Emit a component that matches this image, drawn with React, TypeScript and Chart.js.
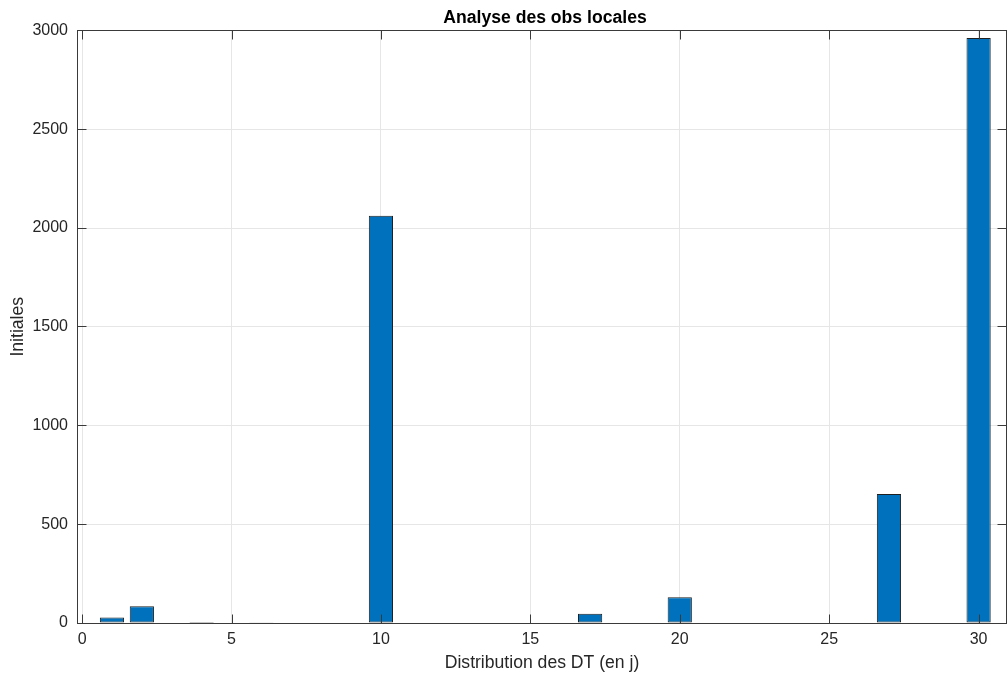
import React, { useEffect, useRef } from 'react';
import { Chart, registerables } from 'chart.js';

Chart.register(...registerables);

const categories = [1, 2, 3, 4, 5, 6, 7, 8, 9, 10, 11, 12, 13, 14, 15, 16, 17, 18, 19, 20, 21, 22, 23, 24, 25, 26, 27, 28, 29, 30];
const values = [28, 85, 3, 5, 2, 4, 3, 3, 3, 2062, 0, 0, 0, 0, 0, 0, 47, 0, 0, 130, 0, 0, 0, 0, 0, 0, 653, 0, 0, 2962];
const xTickValues = [0, 5, 10, 15, 20, 25, 30];
const yTickValues = [0, 500, 1000, 1500, 2000, 2500, 3000];
const titleText = 'Analyse des obs locales';
const xLabel = 'Distribution des DT (en j)';
const yLabel = 'Initiales';

const FONT = "'Liberation Sans', Arial, Helvetica, sans-serif";
const AXIS_COLOR = '#3a3a3a';
const TEXT_COLOR = '#262626';

const boxPlugin = {
  id: 'matlabBox',
  afterDatasetsDraw(chart: any) {
    const { ctx, chartArea, scales } = chart;
    const { left, right, top, bottom } = chartArea;
    const tl = 9;
    const l = Math.floor(left) + 0.5;
    const r = Math.floor(right) - 0.5;
    const t = Math.floor(top) + 0.5;
    const b = Math.floor(bottom) + 0.5;
    ctx.save();
    ctx.strokeStyle = AXIS_COLOR;
    ctx.lineWidth = 1;
    ctx.beginPath();
    for (const v of xTickValues) {
      const px = Math.round(scales.x.getPixelForValue(v)) + 0.5;
      ctx.moveTo(px, b);
      ctx.lineTo(px, b - tl);
      ctx.moveTo(px, t);
      ctx.lineTo(px, t + tl);
    }
    for (const v of yTickValues) {
      const py = Math.floor(scales.y.getPixelForValue(v)) + 0.5;
      ctx.moveTo(l, py);
      ctx.lineTo(l + tl, py);
      ctx.moveTo(r, py);
      ctx.lineTo(r - tl, py);
    }
    ctx.stroke();
    ctx.strokeRect(l, t, r - l, b - t);
    // title centered over the axes
    ctx.fillStyle = '#000000';
    ctx.font = `bold 17.6px ${FONT}`;
    ctx.textAlign = 'center';
    ctx.textBaseline = 'middle';
    ctx.fillText(titleText, (left + right) / 2 + 3, top - 12.5);
    ctx.restore();
  },
};

export default function App() {
  const canvasRef = useRef<HTMLCanvasElement | null>(null);

  useEffect(() => {
    document.body.style.margin = '0';
    const canvas = canvasRef.current;
    if (!canvas) return;
    const chart = new Chart(canvas, {
      type: 'bar',
      data: {
        datasets: [
          {
            data: categories.map((c, i) => ({ x: c, y: values[i] })),
            backgroundColor: '#0072BD',
            borderColor: '#1f1f1f',
            borderWidth: 1,
            borderSkipped: false,
            barPercentage: 0.81,
            categoryPercentage: 1,
          },
        ],
      },
      options: {
        animation: false,
        responsive: false,
        maintainAspectRatio: false,
        layout: { padding: { left: 0, right: 1, top: 30.5, bottom: 0 } },
        plugins: {
          legend: { display: false },
          tooltip: { enabled: false },
          title: { display: false },
        },
        scales: {
          x: {
            type: 'linear',
            offset: false,
            min: -0.17,
            max: 30.95,
            afterBuildTicks: (scale: any) => {
              scale.ticks = xTickValues.map((v) => ({ value: v }));
            },
            afterFit: (scale: any) => {
              scale.height = 52;
            },
            border: { display: false },
            grid: { color: '#e6e6e6', drawTicks: false, lineWidth: 1, offset: false },
            ticks: {
              color: TEXT_COLOR,
              font: { family: FONT, size: 16 },
              padding: 7,
              maxRotation: 0,
              autoSkip: false,
              callback: (v: any) => String(v),
            },
            title: {
              display: true,
              text: xLabel,
              color: TEXT_COLOR,
              font: { family: FONT, size: 17.6 },
              padding: { top: 0, bottom: 1.5 },
            },
          },
          y: {
            type: 'linear',
            min: 0,
            max: 3000,
            afterBuildTicks: (scale: any) => {
              scale.ticks = yTickValues.map((v) => ({ value: v }));
            },
            afterFit: (scale: any) => {
              scale.width = 77;
            },
            border: { display: false },
            grid: { color: '#e6e6e6', drawTicks: false, lineWidth: 1 },
            ticks: {
              color: TEXT_COLOR,
              font: { family: FONT, size: 16 },
              padding: 9,
              autoSkip: false,
              callback: (v: any) => String(v),
            },
            title: {
              display: true,
              text: yLabel,
              color: TEXT_COLOR,
              font: { family: FONT, size: 17.6 },
              padding: { top: 8, bottom: 0 },
            },
          },
        },
      },
      plugins: [boxPlugin],
    } as any);
    return () => chart.destroy();
  }, []);

  return (
    <div style={{ width: 1008, height: 675, background: '#ffffff' }}>
      <canvas ref={canvasRef} width={1008} height={675} style={{ display: 'block' }} />
    </div>
  );
}
